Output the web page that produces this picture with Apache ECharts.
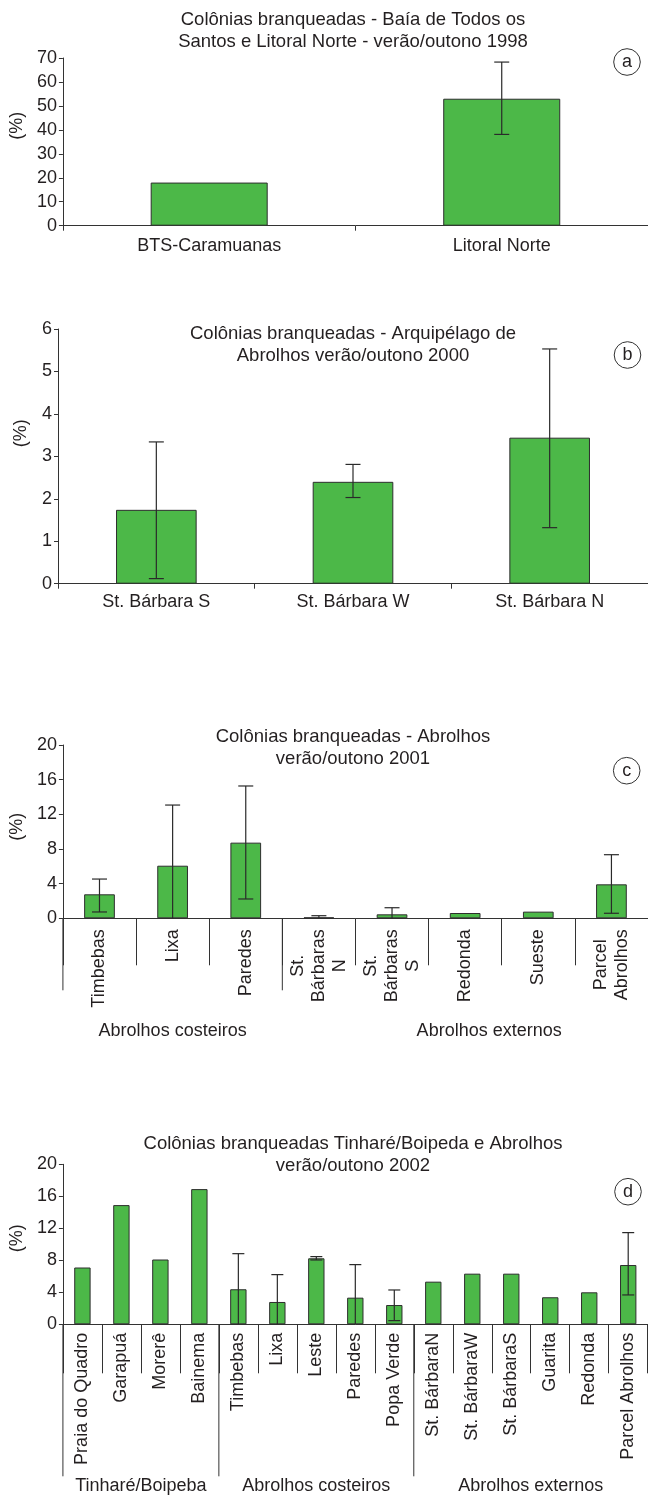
<!DOCTYPE html>
<html><head><meta charset="utf-8">
<script src="https://cdn.jsdelivr.net/npm/echarts@6.0.0/dist/echarts.min.js"></script>
<style>html,body{margin:0;padding:0;background:#fff}#chart{width:648px;height:1497px}</style>
</head><body><div id="chart"></div>
<script>
// ---------- Panel a ----------
const titleA = ['Colônias branqueadas - Baía de Todos os', 'Santos e Litoral Norte - verão/outono 1998'];
const catsA = ['BTS-Caramuanas', 'Litoral Norte'];
const valsA = [18, 53];
const errLowA = [null, 38.1];
const errHighA = [null, 68.3];
const yMaxA = 70, yStepA = 10;

// ---------- Panel b ----------
const titleB = ['Colônias branqueadas - Arquipélago de', 'Abrolhos verão/outono 2000'];
const catsB = ['St. Bárbara S', 'St. Bárbara W', 'St. Bárbara N'];
const valsB = [1.74, 2.40, 3.44];
const errLowB = [0.12, 2.03, 1.32];
const errHighB = [3.34, 2.81, 5.53];
const yMaxB = 6, yStepB = 1;

// ---------- Panel c ----------
const titleC = ['Colônias branqueadas - Abrolhos', 'verão/outono 2001'];
const catsC = ['Timbebas', 'Lixa', 'Paredes', 'St.\nBárbaras\nN', 'St.\nBárbaras\nS', 'Redonda', 'Sueste', 'Parcel\nAbrolhos'];
const valsC = [2.77, 6.07, 8.73, 0.1, 0.46, 0.61, 0.77, 3.92];
const errLowC = [0.73, -0.93, 2.23, -0.1, -0.3, null, null, 0.58];
const errHighC = [4.53, 13.07, 15.27, 0.3, 1.22, null, null, 7.34];
const groupNamesC = ['Abrolhos costeiros', 'Abrolhos externos'];
const groupStartC = [0, 3];
const groupEndC = [2, 7];
const yMaxC = 20, yStepC = 4;

// ---------- Panel d ----------
const titleD = ['Colônias branqueadas Tinharé/Boipeda e Abrolhos', 'verão/outono 2002'];
const catsD = ['Praia do Quadro', 'Garapuá', 'Morerê', 'Bainema', 'Timbebas', 'Lixa', 'Leste', 'Paredes', 'Popa Verde',
  'St. BárbaraN', 'St. BárbaraW', 'St. BárbaraS', 'Guarita', 'Redonda', 'Parcel Abrolhos'];
const valsD = [7.1, 14.9, 8.1, 16.9, 4.38, 2.79, 8.25, 3.33, 2.41, 5.33, 6.33, 6.33, 3.38, 4.0, 7.41];
const errLowD = [null, null, null, null, -0.07, -0.63, 8.04, -0.8, 0.46, null, null, null, null, null, 3.67];
const errHighD = [null, null, null, null, 8.83, 6.21, 8.46, 7.46, 4.29, null, null, null, null, null, 11.46];
const groupNamesD = ['Tinharé/Boipeba', 'Abrolhos costeiros', 'Abrolhos externos'];
const groupStartD = [0, 4, 9];
const groupEndD = [3, 8, 14];
const yMaxD = 20, yStepD = 4;

const panelLetters = ['a', 'b', 'c', 'd'];

// ---------- styling / layout ----------
const FONT = '"Liberation Sans", Arial, Helvetica, sans-serif';
const TXT = '#231f20';
const AX = '#333';
const GREEN = '#4cb848';

const panels = [
  { title: titleA, cats: catsA, vals: valsA, lo: errLowA, hi: errHighA, max: yMaxA, step: yStepA,
    grid: { left: 58, top: 58, width: 594, height: 167.7 }, titleTop: 8.5, barWidth: '40%', cap: 15,
    rotate: 0, labelMargin: 11, tickLen: 5, nameShift: 16, letter: [627, 62] },
  { title: titleB, cats: catsB, vals: valsB, lo: errLowB, hi: errHighB, max: yMaxB, step: yStepB,
    grid: { left: 58, top: 329, width: 592.5, height: 254.7 }, titleTop: 322.6, barWidth: '41%', cap: 15,
    rotate: 0, labelMargin: 9, tickLen: 5, nameShift: 23, letter: [627.5, 355] },
  { title: titleC, cats: catsC, vals: valsC, lo: errLowC, hi: errHighC, max: yMaxC, step: yStepC,
    grid: { left: 56.7, top: 745, width: 595.3, height: 173.3 }, titleTop: 725.9, barWidth: '42%', cap: 15,
    rotate: 90, labelMargin: 11, tickLen: 47, nameShift: 5, letter: [626.7, 770.7],
    groups: { names: groupNamesC, start: groupStartC, end: groupEndC, longLen: 72, labelDy: 113, dx: [0, 24] } },
  { title: titleD, cats: catsD, vals: valsD, lo: errLowD, hi: errHighD, max: yMaxD, step: yStepD,
    grid: { left: 55.7, top: 1164.3, width: 592, height: 160 }, titleTop: 1132.6, barWidth: '42%', cap: 12,
    rotate: 90, labelMargin: 8.5, tickLen: 49, nameShift: 6, letter: [628, 1191.7],
    groups: { names: groupNamesD, start: groupStartD, end: groupEndD, longLen: 152, labelDy: 162, dx: [0, 0, 0] } }
];

function errRender(capW) {
  return function (params, api) {
    const i = api.value(0), lo = api.value(1), hi = api.value(2);
    const top = api.coord([i, hi]);
    const bot = api.coord([i, Math.max(lo, 0)]);
    const x = top[0];
    const st = { stroke: '#2a2a2a', lineWidth: 1.2 };
    const ch = [
      { type: 'line', shape: { x1: x, y1: top[1], x2: x, y2: bot[1] }, style: st },
      { type: 'line', shape: { x1: x - capW / 2, y1: top[1], x2: x + capW / 2, y2: top[1] }, style: st }
    ];
    if (lo >= 0) ch.push({ type: 'line', shape: { x1: x - capW / 2, y1: bot[1], x2: x + capW / 2, y2: bot[1] }, style: st });
    return { type: 'group', children: ch };
  };
}

function groupRender(g) {
  return function (params, api) {
    const s = api.value(0), e = api.value(2), k = api.value(3);
    const bw = api.size([1, 0])[0];
    const p0 = api.coord([s, 0]);
    const p1 = api.coord([e, 0]);
    const xs = p0[0] - bw / 2, xe = p1[0] + bw / 2, y0 = p0[1];
    return {
      type: 'group', children: [
        { type: 'line', shape: { x1: xs, y1: y0, x2: xs, y2: y0 + g.longLen }, style: { stroke: AX, lineWidth: 1 } },
        { type: 'text', x: (xs + xe) / 2 + g.dx[k], y: y0 + g.labelDy,
          style: { text: g.names[k], fill: TXT, font: '18px ' + FONT, textAlign: 'center', textVerticalAlign: 'middle', align: 'center', verticalAlign: 'middle' } }
      ]
    };
  };
}

const option = {
  animation: false,
  backgroundColor: '#fff',
  title: [], grid: [], xAxis: [], yAxis: [], series: [], graphic: []
};

panels.forEach((p, n) => {
  option.title.push({
    text: p.title.join('\n'), left: 353, top: p.titleTop, textAlign: 'center', padding: 0,
    textStyle: { fontFamily: FONT, fontSize: 18.5, fontWeight: 'normal', color: TXT, lineHeight: 22 }
  });
  option.grid.push(Object.assign({ containLabel: false }, p.grid));
  const xLabel = {
    interval: 0, color: TXT, fontFamily: FONT, fontSize: 18, margin: p.labelMargin, rotate: p.rotate
  };
  if (p.rotate) {
    xLabel.lineHeight = 21;
    xLabel.formatter = v => v.split('\n').map(s => '{c|' + s + '}').join('\n');
    xLabel.rich = { c: { align: 'center', fontFamily: FONT, fontSize: 18, color: TXT, lineHeight: 21 } };
  }
  option.xAxis.push({
    type: 'category', gridIndex: n, data: p.cats, boundaryGap: true,
    axisLine: { lineStyle: { color: AX, width: 1 } },
    axisTick: { show: true, interval: 0, length: p.tickLen, lineStyle: { color: AX, width: 1 } },
    axisLabel: xLabel, splitLine: { show: false }
  });
  option.yAxis.push({
    type: 'value', gridIndex: n, min: 0, max: p.max, interval: p.step,
    name: '(%)', nameLocation: 'middle', nameGap: 28,
    nameTextStyle: { fontFamily: FONT, fontSize: 18, color: TXT, padding: [0, 0, 0, 2 * p.nameShift] },
    axisLine: { show: true, lineStyle: { color: AX, width: 1 } },
    axisTick: { show: true, length: 4, lineStyle: { color: AX, width: 1 } },
    axisLabel: { color: TXT, fontFamily: FONT, fontSize: 18, margin: 6 },
    splitLine: { show: false }
  });
  option.series.push({
    type: 'bar', xAxisIndex: n, yAxisIndex: n, data: p.vals, barWidth: p.barWidth,
    itemStyle: { color: GREEN, borderColor: '#2e2e2e', borderWidth: 1 }, silent: true, z: 2
  });
  const errData = [];
  p.cats.forEach((c, j) => { if (p.hi[j] != null) errData.push([j, p.lo[j], p.hi[j]]); });
  option.series.push({
    type: 'custom', xAxisIndex: n, yAxisIndex: n, data: errData, encode: { x: 0, y: [1, 2] },
    renderItem: errRender(p.cap), silent: true, z: 5
  });
  if (p.groups) {
    const g = p.groups;
    option.series.push({
      type: 'custom', xAxisIndex: n, yAxisIndex: n, clip: false, silent: true, z: 5,
      data: g.start.map((s, k) => [s, 0, g.end[k], k]), encode: { x: 0, y: 1 },
      renderItem: groupRender(g)
    });
  }
  option.graphic.push({
    type: 'group', x: p.letter[0], y: p.letter[1], children: [
      { type: 'circle', shape: { cx: 0, cy: 0, r: 13.3 }, style: { fill: '#fff', stroke: AX, lineWidth: 1 } },
      { type: 'text', x: 0, y: 0, style: { text: panelLetters[n], fill: TXT, font: '18px ' + FONT, textAlign: 'center', textVerticalAlign: 'middle', align: 'center', verticalAlign: 'middle' } }
    ]
  });
});

const chart = echarts.init(document.getElementById('chart'), null, { renderer: 'canvas' });
chart.setOption(option);
</script>
</body></html>
